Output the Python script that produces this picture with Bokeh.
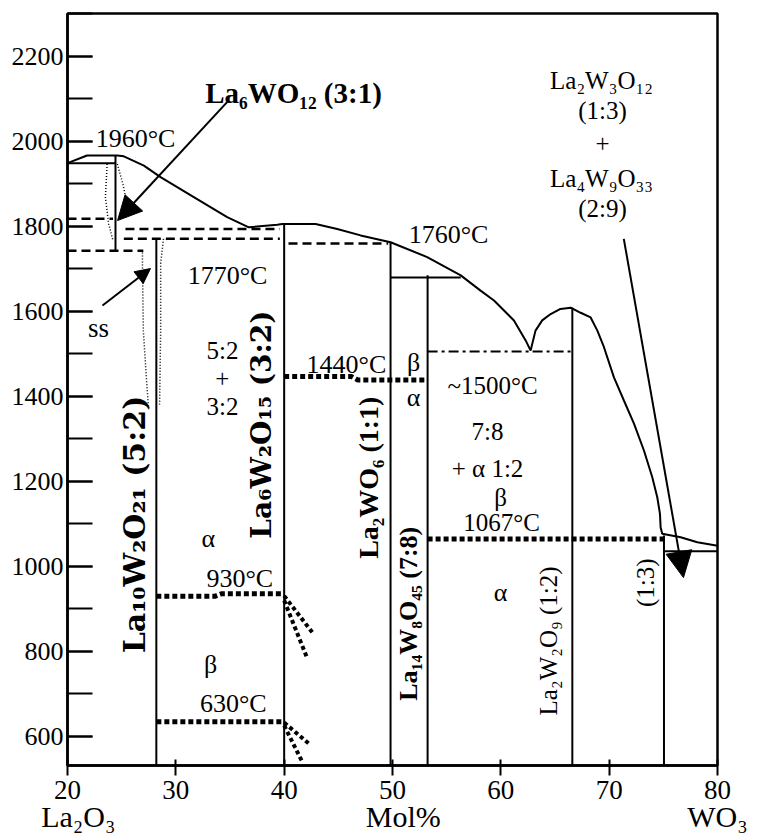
import math
from bokeh.plotting import figure
from bokeh.models import Range1d, SingleIntervalTicker, FixedTicker, LinearAxis, Label, Arrow, NormalHead
from bokeh.embed import file_html
from bokeh.resources import INLINE

# ---------------- data (mol% WO3 vs temperature, deg C) ----------------
x_limits = [20, 80]
y_limits = [531, 2300]

liquidus_x = [20.0, 21.8, 24.6, 25.2, 27.05, 28.59, 31.66, 34.74, 36.74, 39.36, 39.82, 42.9,
              44.9, 47.06, 49.82, 53.2, 56.3, 58.13, 59.37, 61.21, 62.29, 62.75, 63.2, 63.82,
              64.6, 65.5, 66.45, 67.37, 68.29, 68.91, 69.52, 70.44, 71.37, 72.29, 73.21, 73.98,
              74.44, 74.69, 74.75, 74.9, 76.6, 78.14, 80.0]
liquidus_y = [1948, 1966, 1966, 1964, 1942, 1915, 1868, 1821, 1797, 1803, 1805, 1805,
              1793, 1778, 1762, 1727, 1684, 1648, 1625, 1578, 1531, 1507, 1554, 1578,
              1593, 1605, 1608, 1596, 1585, 1554, 1515, 1444, 1389, 1335, 1272, 1209,
              1162, 1123, 1091, 1076, 1068, 1056, 1048]

# compounds: composition, lower and upper temperature of the vertical line
compound_x = [24.43, 28.2, 40.0, 49.82, 53.24, 66.6, 75.06]
compound_low = [1742, 531, 531, 531, 531, 531, 531]
compound_high = [1966, 1770, 1805, 1762, 1684, 1608, 1072]

# solid horizontal lines
solid_h_x0 = [20.0, 49.82, 75.06]
solid_h_x1 = [24.43, 56.3, 80.0]
solid_h_y = [1948, 1679, 1035]

# dashed horizontal lines
dashed_x0 = [20.0, 25.35, 25.2, 20.0, 40.4]
dashed_x1 = [24.2, 39.6, 39.6, 27.0, 49.6]
dashed_y = [1817, 1793, 1770, 1742, 1759]

# thick dotted transitions
t930_x = [28.2, 33.6, 34.2, 40.0]
t930_y = [929, 929, 935, 935]
t630_x = [28.2, 40.0]
t630_y = [634, 634]
t1440_x = [40.0, 46.2, 46.8, 53.24]
t1440_y = [1446, 1446, 1438, 1438]
t1067_x = [53.24, 75.06]
t1067_y = [1064, 1064]
slant_x0 = [40.0, 40.0, 40.0, 40.0]
slant_y0 = [930, 919, 632, 625]
slant_x1 = [42.6, 42.1, 42.3, 41.7]
slant_y1 = [844, 785, 582, 538]

# dash-dot line (~1500 C)
t1500_x = [53.24, 66.6]
t1500_y = [1505, 1505]

# solid-solution boundaries (fine dots)
ss31_left_x = [23.66, 23.5, 23.8, 24.2]
ss31_left_y = [1946, 1868, 1805, 1766]
ss31_right_x = [24.6, 25.1, 25.5, 25.2, 24.7]
ss31_right_y = [1946, 1900, 1852, 1830, 1815]
ss52_left_x = [26.92, 26.92, 27.0, 27.3, 27.5]
ss52_left_y = [1738, 1712, 1554, 1436, 1365]
ss52_right_x = [28.86, 28.6, 28.6, 28.5]
ss52_right_y = [1770, 1712, 1554, 1380]

x_ticks = [20, 30, 40, 50, 60, 70, 80]
y_tick_interval = 200

# axis captions below the numbers
caption_ticks = [21, 51, 80]
caption_texts = ["La₂O₃", "Mol%", "WO₃"]

SERIF = "Liberation Serif"
WIDE = "DejaVu Serif"

# text annotations: text, x, y, font px, style, angle (deg), font
annotations = [
    ("1960°C", 26.28, 2006, 26, "normal", 0, SERIF),
    ("La₆WO₁₂ (3:1)", 40.86, 2112, 29, "bold", 0, SERIF),
    ("1770°C", 34.77, 1684, 26, "normal", 0, SERIF),
    ("1760°C", 55.17, 1780, 26, "normal", 0, SERIF),
    ("ss", 22.86, 1559, 27, "normal", 0, SERIF),
    ("5:2", 34.3, 1507, 25, "normal", 0, SERIF),
    ("+", 34.3, 1441, 25, "normal", 0, SERIF),
    ("3:2", 34.3, 1375, 25, "normal", 0, SERIF),
    ("α", 33.0, 1065, 26, "normal", 0, SERIF),
    ("930°C", 35.9, 971, 26, "normal", 0, SERIF),
    ("β", 33.2, 768, 26, "normal", 0, SERIF),
    ("630°C", 35.3, 676, 26, "normal", 0, SERIF),
    ("1440°C", 45.75, 1474, 26, "normal", 0, SERIF),
    ("β", 51.94, 1479, 26, "normal", 0, SERIF),
    ("α", 51.94, 1396, 26, "normal", 0, SERIF),
    ("~1500°C", 59.23, 1425, 25, "normal", 0, SERIF),
    ("7:8", 58.77, 1316, 25, "normal", 0, SERIF),
    ("+ α 1:2", 58.77, 1229, 25, "normal", 0, SERIF),
    ("β", 59.97, 1161, 25, "normal", 0, SERIF),
    ("1067°C", 60.06, 1102, 25, "normal", 0, SERIF),
    ("α", 59.97, 938, 26, "normal", 0, SERIF),
    ("La₂W₃O₁₂", 69.29, 2142, 25, "normal", 0, SERIF),
    ("(1:3)", 69.38, 2072, 25, "normal", 0, SERIF),
    ("+", 69.38, 1994, 25, "normal", 0, SERIF),
    ("La₄W₉O₃₃", 69.29, 1912, 25, "normal", 0, SERIF),
    ("(2:9)", 69.38, 1841, 25, "normal", 0, SERIF),
    ("La₁₀W₂O₂₁ (5:2)", 26.2, 1098, 30, "bold", 90, WIDE),
    ("La₆W₂O₁₅ (3:2)", 37.95, 1333, 28, "bold", 90, WIDE),
    ("La₂WO₆ (1:1)", 47.8, 1208, 28, "bold", 90, SERIF),
    ("La₁₄W₈O₄₅ (7:8)", 51.5, 888, 26, "bold", 90, SERIF),
    ("La₂W₂O₉ (1:2)", 64.4, 824, 25, "normal", 90, SERIF),
    ("(1:3)", 73.36, 961, 25, "normal", 90, SERIF),
]

# arrows: start x, start y, end x, end y, head size
arrows = [(34.86, 2095, 24.62, 1813, 24), (23.23, 1613, 27.66, 1700, 15), (71.35, 1770, 76.86, 973, 26)]

p = figure(width=757, height=837, x_range=Range1d(*x_limits), y_range=Range1d(*y_limits),
           output_backend="svg", toolbar_location=None,
           min_border_left=67, min_border_right=40, min_border_top=13, min_border_bottom=72)
p.title.visible = False
p.grid.visible = False
p.background_fill_color = "white"
p.border_fill_color = "white"
p.outline_line_color = "black"
p.outline_line_width = 2.5

# y axis
ya = p.yaxis[0]
ya.ticker = SingleIntervalTicker(interval=y_tick_interval, num_minor_ticks=2)
ya.major_tick_in = 25
ya.major_tick_out = 0
ya.minor_tick_in = 25
ya.minor_tick_out = 0
ya.major_tick_line_width = 2
ya.minor_tick_line_width = 2
ya.axis_line_width = 2.5
ya.major_label_text_font = SERIF
ya.major_label_text_font_size = "26px"
ya.major_label_text_color = "black"
ya.major_label_standoff = 4

# x axis
xa = p.xaxis[0]
xa.ticker = x_ticks
xa.major_tick_in = 6
xa.major_tick_out = 10
xa.minor_tick_line_color = None
xa.major_tick_line_width = 2
xa.axis_line_width = 2.5
xa.major_label_text_font = SERIF
xa.major_label_text_font_size = "27px"
xa.major_label_text_color = "black"
xa.major_label_standoff = 5

# caption axis (La2O3 / Mol% / WO3)
cap = LinearAxis(ticker=FixedTicker(ticks=caption_ticks),
                 major_label_overrides={t: s for t, s in zip(caption_ticks, caption_texts)},
                 axis_line_color=None, major_tick_line_color=None, minor_tick_line_color=None,
                 major_tick_out=0, major_tick_in=0, major_label_standoff=-2,
                 major_label_text_font=SERIF, major_label_text_font_size="30px",
                 major_label_text_color="black")
p.add_layout(cap, "below")

# liquidus
p.line(liquidus_x, liquidus_y, line_color="black", line_width=2)

# compound verticals
p.segment(x0=compound_x, y0=compound_low, x1=compound_x, y1=compound_high,
          line_color="black", line_width=2)
p.segment(x0=solid_h_x0, y0=solid_h_y, x1=solid_h_x1, y1=solid_h_y, line_color="black", line_width=2)

# dashed
p.segment(x0=dashed_x0, y0=dashed_y, x1=dashed_x1, y1=dashed_y, line_color="black",
          line_width=2.5, line_dash="9 5")

# thick dotted
for xs, ys in [(t930_x, t930_y), (t630_x, t630_y), (t1440_x, t1440_y), (t1067_x, t1067_y)]:
    p.line(xs, ys, line_color="black", line_width=5, line_dash="5 3")
p.segment(x0=slant_x0, y0=slant_y0, x1=slant_x1, y1=slant_y1, line_color="black",
          line_width=4, line_dash="4 3")

# dash-dot
p.line(t1500_x, t1500_y, line_color="black", line_width=2, line_dash="10 4 3 4")

# ss fine dotted
for xs, ys in [(ss31_left_x, ss31_left_y), (ss31_right_x, ss31_right_y),
               (ss52_left_x, ss52_left_y), (ss52_right_x, ss52_right_y)]:
    p.line(xs, ys, line_color="black", line_width=1.5, line_dash="1 2")

# arrows
for x0, y0, x1, y1, sz in arrows:
    p.add_layout(Arrow(end=NormalHead(size=sz, fill_color="black", line_color="black"),
                       x_start=x0, y_start=y0, x_end=x1, y_end=y1,
                       line_color="black", line_width=2))

# texts
for txt, x, y, size, style, ang, font in annotations:
    p.add_layout(Label(x=x, y=y, text=txt, text_font=font, text_font_size=f"{size}px",
                       text_font_style=style, text_align="center", text_baseline="middle",
                       angle=math.radians(ang), text_color="black"))

open("out.html", "w").write(file_html(p, INLINE))
